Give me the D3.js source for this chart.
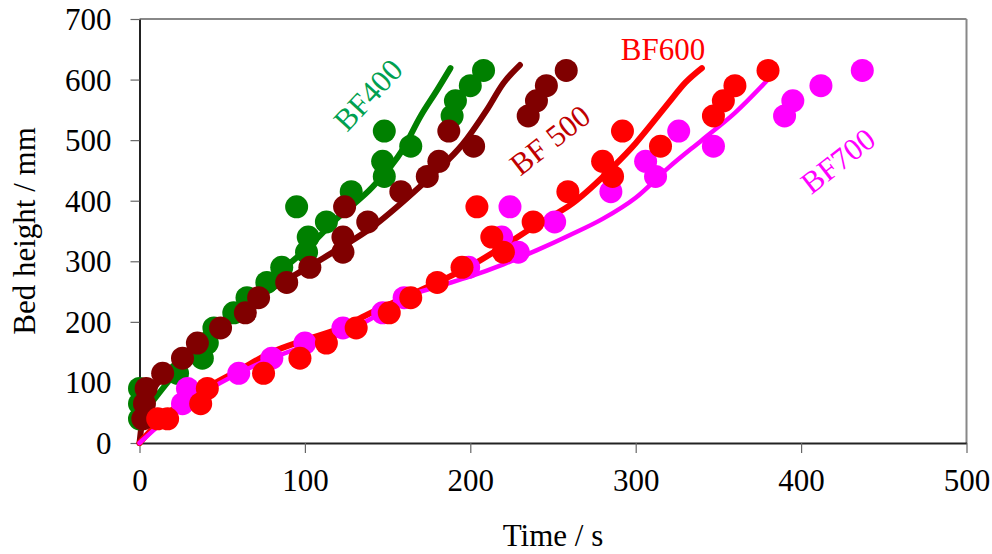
<!DOCTYPE html>
<html>
<head>
<meta charset="utf-8">
<script src="https://cdn.jsdelivr.net/npm/d3@7"></script>
<style>
  html, body { margin: 0; padding: 0; background: #fff; }
  svg text { font-family: "Times New Roman", "Liberation Serif", serif; }
</style>
</head>
<body>
<svg id="chart" width="992" height="554"></svg>
<script>
// Axis ticks
const xTicks = [0, 100, 200, 300, 400, 500];
const yTicks = [0, 100, 200, 300, 400, 500, 600, 700];

// Measured bed heights (mm) against time (s), one pair of arrays per run
const bf400Time   = [0, 0, 0, 23, 38, 41, 45, 57, 65, 77, 86, 101, 102, 113, 95, 128, 148, 147, 164, 148, 189, 191, 200, 208];
const bf400Height = [40, 65, 90, 115, 140, 165, 190, 215, 240, 265, 290, 315, 340, 365, 390, 415, 440, 465, 490, 515, 540, 565, 590, 615];

const bf500Time   = [2, 3, 4, 14, 26, 35, 49, 64, 72, 89, 103, 123, 123, 138, 124, 158, 174, 181, 202, 187, 235, 240, 246, 258];
const bf500Height = [40, 65, 90, 115, 140, 165, 190, 215, 240, 265, 290, 315, 340, 365, 390, 415, 440, 465, 490, 515, 540, 565, 590, 615];

const bf600Time   = [11, 17, 37, 41, 75, 97, 113, 131, 151, 164, 180, 195, 220, 213, 238, 204, 259, 286, 280, 315, 292, 347, 353, 360, 380];
const bf600Height = [40, 40, 65, 90, 115, 140, 165, 190, 215, 240, 265, 290, 315, 340, 365, 390, 415, 440, 465, 490, 515, 540, 565, 590, 615];

const bf700Time   = [26, 29, 60, 80, 100, 123, 147, 160, 199, 229, 219, 251, 224, 285, 312, 306, 347, 326, 390, 395, 412, 437];
const bf700Height = [65, 90, 115, 140, 165, 190, 215, 240, 290, 315, 340, 365, 390, 415, 440, 465, 490, 515, 540, 565, 590, 615];

// Model curves (time s, height mm)
const bf400LineTime   = [0, 20, 40, 60, 80, 100, 120, 141, 159, 170, 180, 188];
const bf400LineHeight = [40, 110, 168, 222, 272, 318, 372, 423, 484, 540, 583, 619];

const bf500LineTime   = [0, 3, 10, 20, 40, 60, 80, 100, 120, 140, 160, 180, 195, 210, 220, 230];
const bf500LineHeight = [0, 60, 95, 125, 180, 220, 255, 287, 320, 355, 400, 450, 492, 550, 594, 624];

const bf600LineTime   = [0, 10, 20, 40, 60, 80, 100, 120, 140, 160, 180, 200, 220, 240, 262, 286, 300, 310, 320, 330, 340];
const bf600LineHeight = [0, 30, 55, 90, 120, 150, 170, 188, 215, 240, 265, 292, 325, 360, 396, 455, 495, 528, 562, 595, 619];

const bf700LineTime   = [0, 20, 40, 60, 80, 100, 120, 140, 160, 180, 200, 220, 240, 260, 280, 300, 320, 340, 360, 380];
const bf700LineHeight = [0, 48, 85, 115, 140, 160, 178, 205, 240, 258, 275, 295, 318, 343, 370, 405, 455, 500, 545, 600];

const seriesNames  = ["BF400", "BF 500", "BF600", "BF700"];
const seriesColors = ["#008000", "#800000", "#ff0000", "#ff00ff"];
const labelColors  = ["#00a050", "#c00000", "#ff0000", "#ff00ff"];

const svg = d3.select("#chart");
const plotLeft = 139.5, plotRight = 966.5, plotTop = 19, plotBottom = 443;

const x = d3.scaleLinear().domain([0, 500]).range([plotLeft, plotRight]);
const y = d3.scaleLinear().domain([0, 700]).range([plotBottom, plotTop]);

// Frame: grey top/right, dark left/bottom axes
svg.append("line").attr("x1", plotLeft).attr("x2", plotRight).attr("y1", plotTop).attr("y2", plotTop)
  .attr("stroke", "#888").attr("stroke-width", 2);
svg.append("line").attr("x1", plotRight).attr("x2", plotRight).attr("y1", plotTop).attr("y2", plotBottom)
  .attr("stroke", "#888").attr("stroke-width", 2);

const yAxis = svg.append("g").attr("transform", `translate(${plotLeft},0)`)
  .call(d3.axisLeft(y).tickValues(yTicks).tickSize(9).tickPadding(19).tickSizeOuter(0));
const xAxis = svg.append("g").attr("transform", `translate(0,${plotBottom})`)
  .call(d3.axisBottom(x).tickValues(xTicks).tickSize(10).tickPadding(16).tickSizeOuter(0));

[yAxis, xAxis].forEach(g => {
  g.select(".domain").attr("stroke", "#222").attr("stroke-width", 2);
  g.selectAll(".tick line").attr("stroke", "#666").attr("stroke-width", 1.2);
  g.selectAll(".tick text").attr("font-family", "Times New Roman, Liberation Serif, serif")
    .attr("font-size", 31).attr("fill", "#000");
});
yAxis.selectAll(".tick text").attr("dy", "0.34em");

// Axis titles
svg.append("text").attr("x", 553).attr("y", 546).attr("text-anchor", "middle")
  .attr("font-size", 31).text("Time / s");
svg.append("text").attr("transform", "translate(35,231) rotate(-90)")
  .attr("text-anchor", "middle").attr("font-size", 31).text("Bed height / mm");

const lineGen = d3.line().x(d => x(d[0])).y(d => y(d[1])).curve(d3.curveMonotoneX);
const zip = (a, b) => a.map((v, i) => [v, b[i]]);

const curves = [
  zip(bf400LineTime, bf400LineHeight),
  zip(bf500LineTime, bf500LineHeight),
  zip(bf600LineTime, bf600LineHeight),
  zip(bf700LineTime, bf700LineHeight)
];
const curveWidths = [6, 6, 6, 4.5];

const points = [
  zip(bf400Time, bf400Height),
  zip(bf500Time, bf500Height),
  zip(bf700Time, bf700Height),
  zip(bf600Time, bf600Height)
];
const pointColors = [seriesColors[0], seriesColors[1], seriesColors[3], seriesColors[2]];

const plot = svg.append("g");

curves.forEach((c, i) => {
  plot.append("path").datum(c).attr("d", lineGen)
    .attr("fill", "none").attr("stroke", seriesColors[i])
    .attr("stroke-width", curveWidths[i]).attr("stroke-linecap", "round")
    .attr("stroke-linejoin", "round");
});

points.forEach((p, i) => {
  plot.append("g").selectAll("circle").data(p).join("circle")
    .attr("cx", d => x(d[0])).attr("cy", d => y(d[1])).attr("r", 11.5)
    .attr("fill", pointColors[i]);
});

// Series labels
const labels = [
  { name: seriesNames[0], cx: 368, cy: 95, rot: -47 },
  { name: seriesNames[1], cx: 550, cy: 140, rot: -38 },
  { name: seriesNames[2], cx: 663, cy: 49, rot: 0 },
  { name: seriesNames[3], cx: 838, cy: 161, rot: -38 }
];
labels.forEach((l, i) => {
  svg.append("text").attr("transform", `translate(${l.cx},${l.cy}) rotate(${l.rot})`)
    .attr("text-anchor", "middle").attr("dominant-baseline", "central")
    .attr("font-size", 31).attr("fill", labelColors[i]).text(l.name);
});
</script>
</body>
</html>
